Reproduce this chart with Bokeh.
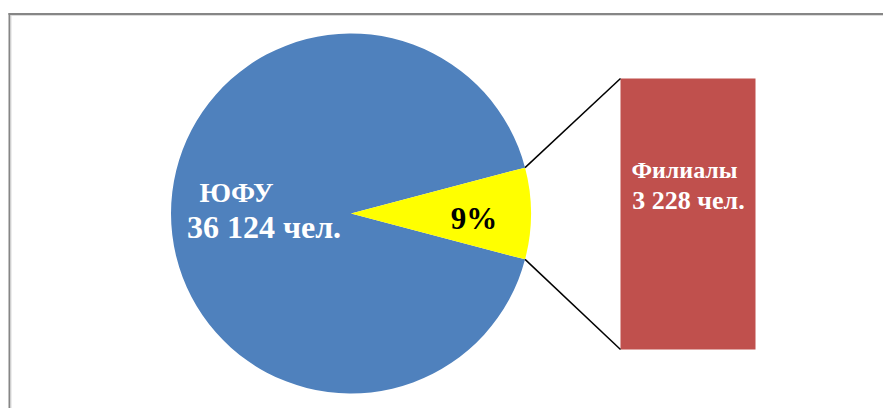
import math
from bokeh.plotting import figure
from bokeh.models import Range1d
from bokeh.core.properties import value
from bokeh.embed import file_html
from bokeh.resources import INLINE

# ---- data ----
categories = ["ЮФУ", "Филиалы"]
counts = [36124, 3228]
pct_label = "9%"
unit = "чел."

def fmt(n):
    return f"{n:,}".replace(",", " ") + " " + unit

# ---- layout (pixels, y up) ----
W, H = 883, 408
cx, cy, r = 350.5, 195.0, 180.0
bar_left, bar_right = 620.0, 755.0
bar_bottom, bar_px = 59.0, 271.0

blue, red, yellow = "#4F81BD", "#C0504D", "#FFFF00"
font = value("Liberation Serif")

p = figure(width=W, height=H, output_backend="svg", toolbar_location=None,
           x_range=Range1d(0, W), y_range=Range1d(0, H), min_border=0)
p.axis.visible = False
p.grid.visible = False
p.outline_line_color = None
p.background_fill_color = "white"
p.border_fill_color = "white"

# frame (top + left edges visible, corner at top-left)
p.line(x=[8, W + 20], y=[394.5, 394.5], line_color="#868686", line_width=2)
p.line(x=[10, W + 20], y=[393, 393], line_color="#dcdcdc", line_width=1)
p.line(x=[9, 9], y=[395.5, -20], line_color="#868686", line_width=2)
p.line(x=[10.5, 10.5], y=[393.5, -20], line_color="#dcdcdc", line_width=1)

total = sum(counts)
theta = 2 * math.pi * counts[1] / total
s_small, e_small = -theta / 2, theta / 2

p.wedge(x=[cx], y=[cy], radius=r, start_angle=[e_small], end_angle=[2 * math.pi + s_small],
        fill_color=blue, line_color=None)
p.wedge(x=[cx], y=[cy], radius=r, start_angle=[s_small], end_angle=[e_small],
        fill_color=yellow, line_color=None)

# bar for the exploded slice
scale = bar_px / counts[1]
bar_top = bar_bottom + counts[1] * scale
p.quad(left=[bar_left], right=[bar_right], bottom=[bar_bottom], top=[bar_top],
       fill_color=red, line_color=None)

# connector lines
ux, uy = cx + r * math.cos(e_small), cy + r * math.sin(e_small)
lx, ly = cx + r * math.cos(s_small), cy + r * math.sin(s_small)
p.line(x=[ux, bar_left], y=[uy, bar_top], line_color="black", line_width=1.5)
p.line(x=[lx, bar_left], y=[ly, bar_bottom], line_color="black", line_width=1.5)

# labels
p.text(x=[236], y=[216], text=[categories[0]], text_color="white", text_font=font,
       text_font_style="bold", text_font_size="28px", text_align="center",
       text_baseline="alphabetic")
p.text(x=[263.5], y=[182], text=[fmt(counts[0])], text_color="white", text_font=font,
       text_font_style="bold", text_font_size="32px", text_align="center",
       text_baseline="alphabetic")
p.text(x=[473.5], y=[190], text=[pct_label], text_color="black", text_font=font,
       text_font_style="bold", text_font_size="31px", text_align="center",
       text_baseline="alphabetic")
bx = 684.0
p.text(x=[bx], y=[239], text=[categories[1]], text_color="white", text_font=font,
       text_font_style="bold", text_font_size="24px", text_align="center",
       text_baseline="alphabetic")
p.text(x=[bx + 4], y=[208], text=[fmt(counts[1])], text_color="white", text_font=font,
       text_font_style="bold", text_font_size="26px", text_align="center",
       text_baseline="alphabetic")

open("out.html", "w").write(file_html(p, INLINE))
